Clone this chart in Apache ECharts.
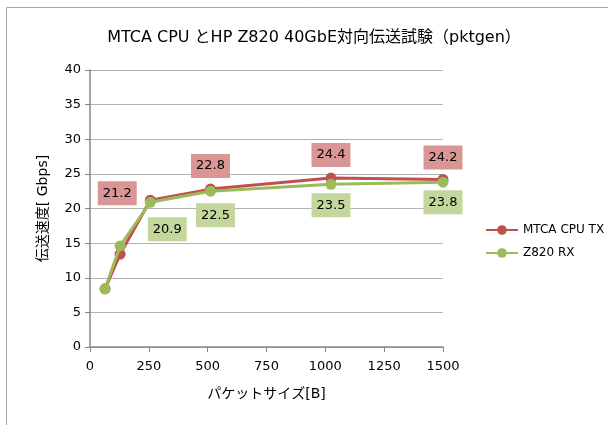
<!DOCTYPE html>
<html>
<head>
<meta charset="utf-8">
<script src="https://cdn.jsdelivr.net/npm/echarts@6/dist/echarts.min.js"></script>
<style>
  html, body { margin: 0; padding: 0; background: #fff; }
  #chart { width: 608px; height: 425px; }
</style>
</head>
<body>
<div id="chart"></div>
<script>
// packet size [B] and throughput [Gbps]
const packetSizes = [64, 128, 256, 512, 1024, 1500];
const txValues = [8.4, 13.4, 21.2, 22.8, 24.4, 24.2];
const rxValues = [8.4, 14.6, 20.9, 22.5, 23.5, 23.8];
const seriesNames = ['MTCA CPU TX', 'Z820 RX'];

const FONT = "'DejaVu Sans', 'Noto Sans CJK JP', sans-serif";

// label offsets relative to the point (only the last four points carry labels)
const txOffsets = [null, null, [-33, -7], [0, -23], [0, -23], [0, -22]];
const rxOffsets = [null, null, [17, 27], [5, 24], [0, 21], [0, 20]];

function buildData(values, offsets, bg) {
    return packetSizes.map((x, i) => {
        const item = { value: [x, values[i]] };
        if (offsets[i]) {
            item.label = {
                show: true,
                position: 'inside',
                offset: offsets[i],
                formatter: (p) => p.value[1].toFixed(1),
                backgroundColor: bg,
                color: '#000',
                fontFamily: FONT,
                fontSize: 13,
                lineHeight: 15,
                padding: [5, 5, 4, 5]
            };
        }
        return item;
    });
}

const chart = echarts.init(document.getElementById('chart'), null, { renderer: 'canvas' });

chart.setOption({
    animation: false,
    textStyle: { fontFamily: FONT },
    graphic: [{
        type: 'rect',
        shape: { x: 6.5, y: 7.5, width: 700, height: 500 },
        style: { fill: 'none', stroke: '#a6a6a6', lineWidth: 1 },
        silent: true
    }],
    title: {
        text: 'MTCA CPU とHP Z820 40GbE対向伝送試験（pktgen）',
        left: 309,
        top: 25,
        textAlign: 'center',
        textStyle: { fontSize: 16, fontWeight: 'normal', color: '#000', fontFamily: FONT }
    },
    legend: {
        orient: 'vertical',
        left: 480,
        top: 219,
        itemGap: 11,
        itemWidth: 32,
        itemHeight: 12,
        textStyle: { fontSize: 12, color: '#000', fontFamily: FONT },
        data: seriesNames
    },
    grid: { left: 90, right: 165, top: 70, bottom: 78 },
    xAxis: {
        type: 'value',
        min: 0,
        max: 1500,
        interval: 250,
        name: 'パケットサイズ[B]',
        nameLocation: 'middle',
        nameGap: 40,
        nameTextStyle: { fontSize: 14, color: '#000', fontFamily: FONT },
        axisLine: { lineStyle: { color: '#868686', width: 1.5 } },
        axisTick: { show: true, inside: false, length: 5, lineStyle: { color: '#868686' } },
        axisLabel: { fontSize: 13, color: '#000', margin: 13, fontFamily: FONT, formatter: (v) => String(v) },
        splitLine: { show: false }
    },
    yAxis: {
        type: 'value',
        min: 0,
        max: 40,
        interval: 5,
        name: '伝送速度[ Gbps]',
        nameLocation: 'middle',
        nameGap: 40,
        nameTextStyle: { fontSize: 14, color: '#000', fontFamily: FONT },
        axisLine: { show: true, lineStyle: { color: '#868686', width: 1.5 } },
        axisTick: { show: true, inside: false, length: 5, lineStyle: { color: '#868686' } },
        axisLabel: { fontSize: 13, color: '#000', margin: 9, fontFamily: FONT },
        splitLine: { show: true, lineStyle: { color: '#b3b3b3', width: 1 } }
    },
    series: [
        {
            name: seriesNames[0],
            type: 'line',
            data: buildData(txValues, txOffsets, '#d99694'),
            symbol: 'circle',
            symbolSize: 11,
            itemStyle: { color: '#c0504d' },
            lineStyle: { color: '#c0504d', width: 3 },
            z: 2
        },
        {
            name: seriesNames[1],
            type: 'line',
            data: buildData(rxValues, rxOffsets, '#c3d69b'),
            symbol: 'circle',
            symbolSize: 11,
            itemStyle: { color: '#9bbb59' },
            lineStyle: { color: '#9bbb59', width: 3 },
            z: 3
        }
    ]
});
</script>
</body>
</html>
